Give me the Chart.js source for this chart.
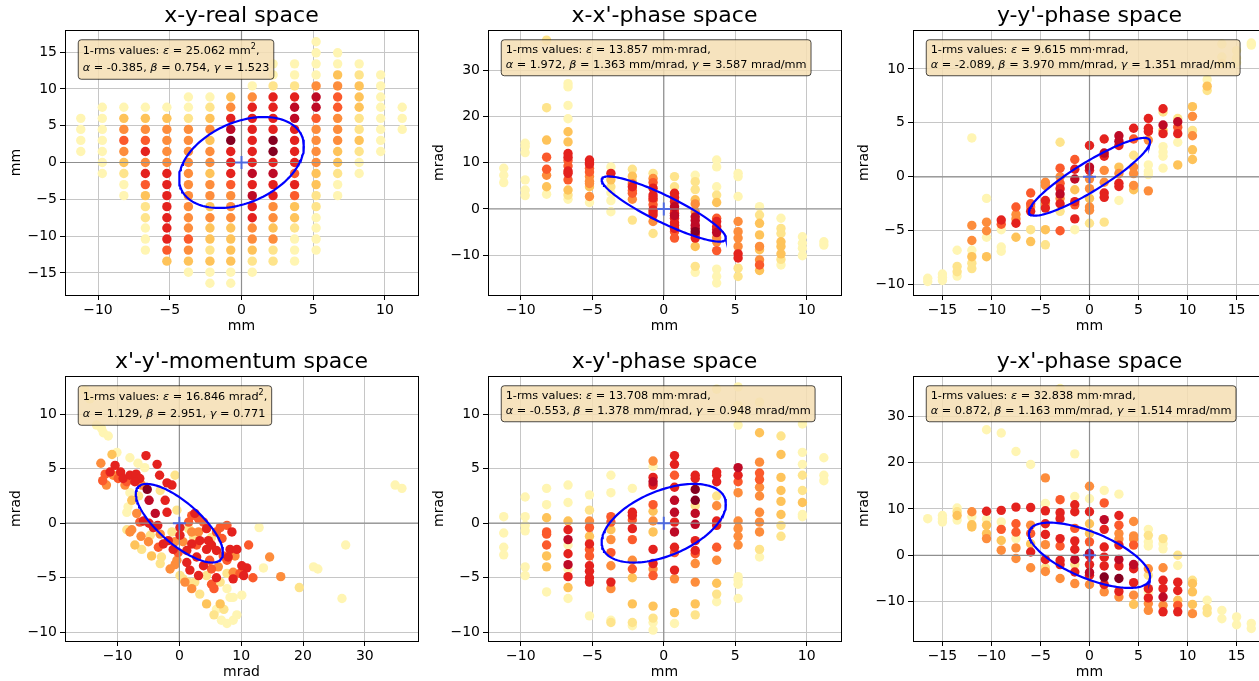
<!DOCTYPE html>
<html>
<head>
<meta charset="utf-8">
<script src="https://cdn.jsdelivr.net/npm/chart.js@4.4.0/dist/chart.umd.min.js"></script>
<style>
  html, body { margin: 0; padding: 0; background: #fff; overflow: hidden; width: 1259px; height: 681px; }
  canvas { position: absolute; }
</style>
</head>
<body>
<script>
// colour levels of the beam density (YlOrRd)
const levelColors = ['#fff5b3', '#fee48c', '#fec35a', '#fd8d3c', '#fb5a2c', '#e4221e', '#be0a26', '#850020'];

// twiss values: epsilon, alpha, beta, gamma
const twissXY = [25.062, -0.385, 0.754, 1.523];
const twissXXp = [13.857, 1.972, 1.363, 3.587];
const twissYYp = [9.615, -2.089, 3.970, 1.351];
const twissXpYp = [16.846, 1.129, 2.951, 0.771];
const twissXYp = [13.708, -0.553, 1.378, 0.948];
const twissYXp = [32.838, 0.872, 1.163, 1.514];
const beamCenter = [0, 0];

// points: [horizontal, vertical, density level]
const ptsXY = [
  [-11.2,6.0,1],[-11.2,4.5,1],[-11.2,3.0,1],[-11.2,1.5,1],
  [-9.7,7.5,1],[-9.7,6.0,1],[-9.7,4.5,1],[-9.7,3.0,1],[-9.7,1.5,1],[-9.7,0,1],[-9.7,-1.5,1],
  [-8.2,7.5,1],[-8.2,6.0,3],[-8.2,4.5,4],[-8.2,3.0,5],[-8.2,1.5,4],[-8.2,0,3],[-8.2,-1.5,2],[-8.2,-3.0,1],[-8.2,-4.5,1],
  [-6.7,7.5,1],[-6.7,6.0,3],[-6.7,4.5,4],[-6.7,3.0,5],[-6.7,1.5,6],[-6.7,0,4],[-6.7,-1.5,6],[-6.7,-3.0,5],[-6.7,-4.5,3],[-6.7,-6.0,2],[-6.7,-7.5,2],[-6.7,-8.9,1],[-6.7,-10.4,1],[-6.7,-11.9,1],
  [-5.2,7.5,1],[-5.2,6.0,3],[-5.2,4.5,4],[-5.2,3.0,4],[-5.2,1.5,4],[-5.2,0,4],[-5.2,-1.5,6],[-5.2,-3.0,6],[-5.2,-4.5,6],[-5.2,-6.0,6],[-5.2,-7.5,6],[-5.2,-8.9,6],[-5.2,-10.4,6],[-5.2,-11.9,5],[-5.2,-13.4,3],
  [-3.7,8.9,1],[-3.7,7.5,1],[-3.7,6.0,2],[-3.7,4.5,4],[-3.7,3.0,4],[-3.7,1.5,4],[-3.7,0,4],[-3.7,-1.5,4],[-3.7,-3.0,4],[-3.7,-4.5,4],[-3.7,-6.0,4],[-3.7,-7.5,4],[-3.7,-8.9,4],[-3.7,-10.4,5],[-3.7,-11.9,4],[-3.7,-13.4,3],[-3.7,-14.9,1],
  [-2.2,8.9,1],[-2.2,7.5,2],[-2.2,6.0,3],[-2.2,4.5,4],[-2.2,3.0,3],[-2.2,1.5,4],[-2.2,0,4],[-2.2,-1.5,3],[-2.2,-3.0,4],[-2.2,-4.5,4],[-2.2,-6.0,3],[-2.2,-7.5,4],[-2.2,-8.9,3],[-2.2,-10.4,3],[-2.2,-11.9,2],[-2.2,-13.4,3],[-2.2,-14.9,1],[-2.2,-16.4,1],
  [-0.75,8.9,3],[-0.75,7.5,4],[-0.75,6.0,6],[-0.75,4.5,7],[-0.75,3.0,8],[-0.75,1.5,6],[-0.75,0,6],[-0.75,-1.5,6],[-0.75,-3.0,5],[-0.75,-4.5,4],[-0.75,-6.0,4],[-0.75,-7.5,4],[-0.75,-8.9,3],[-0.75,-10.4,3],[-0.75,-11.9,3],[-0.75,-13.4,3],[-0.75,-14.9,1],[-0.75,-16.4,1],
  [0.75,10.4,1],[0.75,8.9,4],[0.75,7.5,6],[0.75,6.0,6],[0.75,4.5,6],[0.75,3.0,6],[0.75,1.5,6],[0.75,0,6],[0.75,-1.5,7],[0.75,-3.0,6],[0.75,-4.5,7],[0.75,-6.0,6],[0.75,-7.5,6],[0.75,-8.9,4],[0.75,-10.4,4],[0.75,-11.9,3],[0.75,-13.4,2],[0.75,-14.9,1],
  [2.2,13.4,1],[2.2,11.9,1],[2.2,10.4,2],[2.2,8.9,6],[2.2,7.5,6],[2.2,6.0,6],[2.2,4.5,6],[2.2,3.0,8],[2.2,1.5,8],[2.2,0,6],[2.2,-1.5,7],[2.2,-3.0,6],[2.2,-4.5,6],[2.2,-6.0,4],[2.2,-7.5,4],[2.2,-8.9,3],[2.2,-10.4,4],[2.2,-11.9,2],[2.2,-13.4,2],
  [3.7,13.4,1],[3.7,11.9,1],[3.7,10.4,2],[3.7,8.9,6],[3.7,7.5,7],[3.7,6.0,7],[3.7,4.5,6],[3.7,3.0,6],[3.7,1.5,6],[3.7,0,6],[3.7,-1.5,5],[3.7,-3.0,6],[3.7,-4.5,5],[3.7,-6.0,3],[3.7,-7.5,3],[3.7,-8.9,2],[3.7,-10.4,1],[3.7,-11.9,1],[3.7,-13.4,1],
  [5.2,16.4,1],[5.2,14.9,1],[5.2,13.4,1],[5.2,11.9,1],[5.2,10.4,4],[5.2,8.9,7],[5.2,7.5,7],[5.2,6.0,5],[5.2,4.5,4],[5.2,3.0,4],[5.2,1.5,4],[5.2,0,4],[5.2,-1.5,3],[5.2,-3.0,3],[5.2,-4.5,2],[5.2,-6.0,2],[5.2,-7.5,1],[5.2,-8.9,1],[5.2,-10.4,1],[5.2,-11.9,1],
  [6.7,14.9,1],[6.7,13.4,1],[6.7,11.9,3],[6.7,10.4,4],[6.7,8.9,5],[6.7,7.5,5],[6.7,6.0,4],[6.7,4.5,4],[6.7,3.0,4],[6.7,1.5,3],[6.7,0,3],[6.7,-1.5,2],[6.7,-3.0,1],[6.7,-4.5,1],
  [8.2,13.4,1],[8.2,11.9,2],[8.2,10.4,3],[8.2,8.9,3],[8.2,7.5,3],[8.2,6.0,2],[8.2,4.5,2],[8.2,3.0,3],[8.2,1.5,2],[8.2,0,1],[8.2,-1.5,1],
  [9.7,11.9,1],[9.7,10.4,1],[9.7,8.9,1],[9.7,7.5,1],[9.7,6.0,1],[9.7,4.5,1],[9.7,3.0,1],[9.7,1.5,1],
  [11.2,7.5,1],[11.2,6.0,1],[11.2,4.5,1]
];

const ptsXXp = [
  [-11.2,8.8,1],[-11.2,7.3,1],[-11.2,5.7,1],
  [-9.7,14.2,1],[-9.7,13.5,1],[-9.7,12.2,1],[-9.7,6.3,1],[-9.7,4.1,1],[-9.7,2.9,1],
  [-8.2,36.5,2],[-8.2,21.9,2],[-8.2,14.9,3],[-8.2,11.2,5],[-8.2,8.6,5],[-8.2,7.3,4],[-8.2,4.8,3],[-8.2,3.2,1],
  [-6.7,27.1,1],[-6.7,26.4,1],[-6.7,22.4,1],[-6.7,19.5,1],[-6.7,16.7,3],[-6.7,14.5,3],[-6.7,12.0,6],[-6.7,11.2,6],[-6.7,10.5,5],[-6.7,9.3,5],[-6.7,8.2,6],[-6.7,7.7,6],[-6.7,6.3,5],[-6.7,4.1,3],[-6.7,3.0,2],[-6.7,2.1,1],
  [-5.2,10.6,6],[-5.2,10.0,6],[-5.2,9.7,6],[-5.2,8.8,5],[-5.2,8.0,5],[-5.2,7.0,4],[-5.2,6.0,4],[-5.2,5.5,4],[-5.2,4.8,3],[-5.2,2.7,4],[-5.2,1.4,1],
  [-3.7,9.1,1],[-3.7,7.7,6],[-3.7,6.3,3],[-3.7,4.8,2],[-3.7,3.5,1],[-3.7,1.8,1],[-3.7,-0.6,1],
  [-2.2,8.6,2],[-2.2,7.1,3],[-2.2,5.9,3],[-2.2,5.4,5],[-2.2,4.8,6],[-2.2,4.0,5],[-2.2,3.4,5],[-2.2,2.1,4],[-2.2,-2.4,2],
  [-0.75,7.7,2],[-0.75,6.6,4],[-0.75,5.7,5],[-0.75,4.5,6],[-0.75,3.0,6],[-0.75,2.4,6],[-0.75,1.9,5],[-0.75,0.9,5],[-0.75,-0.2,6],[-0.75,-0.7,5],[-0.75,-1.3,6],[-0.75,-2.7,4],[-0.75,-5.3,2],
  [0.75,7.0,2],[0.75,4.8,2],[0.75,3.4,6],[0.75,2.5,6],[0.75,1.6,6],[0.75,0.5,7],[0.75,0.0,6],[0.75,-0.9,6],[0.75,-1.4,7],[0.75,-2.0,6],[0.75,-3.0,6],[0.75,-3.5,6],[0.75,-4.2,6],[0.75,-4.9,5],[0.75,-6.3,5],
  [2.2,7.3,1],[2.2,5.9,2],[2.2,4.2,2],[2.2,2.0,3],[2.2,1.1,4],[2.2,-0.6,4],[2.2,-1.7,7],[2.2,-2.5,7],[2.2,-3.5,7],[2.2,-4.2,7],[2.2,-4.9,8],[2.2,-5.5,6],[2.2,-6.3,6],[2.2,-8.1,3],[2.2,-12.4,2],[2.2,-13.7,1],
  [3.7,10.6,1],[3.7,9.1,1],[3.7,4.8,1],[3.7,3.0,2],[3.7,1.4,3],[3.7,-2.0,5],[3.7,-2.7,6],[3.7,-3.8,6],[3.7,-4.4,6],[3.7,-5.1,7],[3.7,-6.2,4],[3.7,-7.1,4],[3.7,-9.0,5],[3.7,-13.0,1],[3.7,-14.6,1],[3.7,-16.0,1],
  [5.2,7.7,1],[5.2,7.0,1],[5.2,2.7,1],[5.2,-2.7,4],[5.2,-4.9,4],[5.2,-6.3,4],[5.2,-8.1,4],[5.2,-9.7,6],[5.2,-10.6,6],[5.2,-12.8,2],[5.2,-14.6,2],
  [6.7,0.5,1],[6.7,-1.3,2],[6.7,-3.1,3],[6.7,-5.6,3],[6.7,-8.1,4],[6.7,-8.8,3],[6.7,-11.0,4],[6.7,-12.1,5],[6.7,-13.3,3],
  [8.2,-2.0,1],[8.2,-4.2,2],[8.2,-5.3,2],[8.2,-7.1,3],[8.2,-8.1,3],[8.2,-9.7,3],[8.2,-10.9,2],[8.2,-12.1,1],
  [9.7,-6.0,1],[9.7,-7.4,1],[9.7,-8.5,1],[9.7,-10.1,1],
  [11.2,-7.1,1],[11.2,-7.8,1]
];

const ptsYYp = [
  [-16.5,-9.4,1],[-16.5,-9.7,1],
  [-15,-9.0,1],[-15,-9.3,1],[-15,-9.6,1],
  [-13.5,-6.8,1],[-13.5,-8.3,2],[-13.5,-8.8,2],[-13.5,-9.2,1],
  [-12,3.6,1],[-12,-4.5,4],[-12,-5.9,4],[-12,-6.8,1],[-12,-7.4,3],[-12,-8.0,2],[-12,-8.5,2],
  [-10.5,-2.0,1],[-10.5,-4.2,4],[-10.5,-5.0,4],[-10.5,-5.6,1],[-10.5,-7.4,3],
  [-9,-4.0,6],[-9,-4.4,5],[-9,-4.9,1],[-9,-6.5,1],[-9,-6.9,1],
  [-7.5,-2.8,5],[-7.5,-3.5,4],[-7.5,-3.9,4],[-7.5,-4.3,6],[-7.5,-5.6,3],
  [-6,-1.5,5],[-6,-2.5,5],[-6,-2.8,4],[-6,-3.2,6],[-6,-4.9,2],[-6,-6.0,3],
  [-4.5,-0.5,4],[-4.5,-0.8,4],[-4.5,-2.2,6],[-4.5,-2.5,4],[-4.5,-2.9,6],[-4.5,-4.9,3],[-4.5,-6.3,2],
  [-3,3.2,2],[-3,0.8,5],[-3,0,4],[-3,-0.6,5],[-3,-1.1,6],[-3,-1.6,7],[-3,-2.0,4],[-3,-2.5,6],[-3,-3.2,2],[-3,-5.0,5],
  [-1.5,1.6,5],[-1.5,0.7,6],[-1.5,-0.2,7],[-1.5,-1.2,3],[-1.5,-2.3,6],[-1.5,-2.6,5],[-1.5,-3.9,6],[-1.5,-4.9,1],
  [0,2.9,6],[0,0.9,7],[0,0.6,6],[0,-0.2,4],[0,-1.1,4],[0,-2.0,3],[0,-2.8,4],[0,-3.1,4],[0,-4.3,2],
  [1.5,3.5,6],[1.5,2.2,7],[1.5,1.9,6],[1.5,0.6,4],[1.5,-0.5,4],[1.5,-1.5,6],[1.5,-1.9,6],[1.5,-4.2,2],
  [3,3.8,7],[3,3.3,7],[3,2.9,6],[3,0.9,3],[3,0.3,4],[3,-0.6,6],[3,-0.9,6],[3,-2.2,1],
  [4.5,4.5,6],[4.5,3.5,5],[4.5,2.0,2],[4.5,0.9,4],[4.5,0.3,4],[4.5,-0.8,4],[4.5,-1.2,3],
  [6,5.4,6],[6,4.5,6],[6,4.2,6],[6,3.4,4],[6,1.1,1],[6,0.5,1],[6,0.2,1],[6,-1.3,4],
  [7.5,6.3,6],[7.5,6.0,2],[7.5,4.8,7],[7.5,4.3,3],[7.5,4.0,6],[7.5,2.8,1],[7.5,2.3,1],[7.5,1.9,1],[7.5,0.8,1],
  [9,5.4,2],[9,5.1,7],[9,4.6,5],[9,4.0,6],[9,3.2,1],[9,1.1,3],
  [10.5,6.5,3],[10.5,5.6,4],[10.5,4.3,2],[10.5,3.8,4],[10.5,2.5,3],[10.5,1.6,3],
  [12,9.0,1],[12,8.4,3],[12,8.0,2],
  [13.5,12.3,1],[13.5,11.1,1],[13.5,10.5,2],
  [15,11.7,1],[15,11.0,1],[15,10.6,1],
  [16.5,12.4,1],[16.5,12.2,1]
];

const ptsXpYp = [
  [-15.3,12.2,1],[-14.5,11.4,1],[-13.4,9.0,1],[-12.6,8.7,1],[-12.3,8.3,1],[-11.5,8.0,1],[-10.9,6.3,3],[-10.1,6.5,1],[-8.0,6.0,1],
  [-12.7,5.5,4],[-12.0,4.5,5],[-12.4,3.9,5],[-11.8,3.5,4],[-10.7,4.4,4],[-10.4,5.3,6],[-9.5,4.7,6],[-9.1,4.1,6],[-8.5,3.8,5],
  [-8.0,4.4,6],[-7.0,4.5,6],[-6.4,4.1,6],[-5.4,6.2,6],[-5.6,5.1,1],[-5.2,3.1,8],[-4.9,2.1,7],[-3.6,5.4,6],[-3.2,4.4,6],
  [-3.1,3.0,2],[-2.3,2.1,6],[-2.0,1.0,6],[-3.9,0.9,7],[-3.5,-0.2,6],[-2.0,3.7,6],[-1.2,3.5,6],[-0.7,4.4,2],[-0.4,1.2,2],
  [-8.0,2.8,1],[-7.7,2.1,3],[-8.5,1.0,1],[-6.4,0.1,5],[-4.9,0.0,6],[-7.7,-0.6,4],[-8.0,-0.8,4],[-6.2,-1.2,4],[-4.7,-1.1,2],
  [-5.0,-1.7,4],[-3.4,-2.2,5],[-2.9,-3.1,2],[-1.8,-1.6,6],[-1.0,-2.4,6],[-0.2,-2.7,5],[-0.7,-3.8,4],[0.1,-0.4,6],[1.5,0.1,5],
  [2.0,0.7,5],[2.5,0.9,6],[3.1,0.4,5],[3.9,0.1,5],[2.3,-1.3,2],[2.0,-0.8,4],[2.8,-2.0,5],[4.4,-0.5,6],[4.7,-1.6,6],
  [6.0,-0.8,5],[6.6,-0.4,5],[7.7,-0.2,5],[8.5,-0.8,6],[8.2,-2.4,6],[9.3,-2.4,6],[9.0,-3.0,4],[11.2,-2.0,5],[14.6,-3.1,4],
  [12.9,-0.4,1],[10.9,-4.1,6],[10.1,-3.9,6],[11.9,-5.0,5],[9.8,-4.6,5],[8.7,-4.5,4],[6.0,-5.0,6],[5.6,-6.0,5],[6.6,-5.4,2],
  [7.7,-4.6,2],[3.9,-3.9,6],[4.9,-3.4,5],[3.1,-4.8,6],[1.7,-4.3,6],[1.2,-2.5,6],[-0.7,-1.7,4],[0.1,-4.8,2],[0.9,-5.4,4],
  [1.5,-5.4,2],[2.5,-5.4,2],[4.4,-4.8,2],[4.4,-7.4,3],[3.3,-6.5,2],[6.6,-7.4,3],[7.2,-7.9,2],[5.6,-8.4,2],[6.8,-8.9,1],
  [7.7,-9.2,1],[8.7,-8.9,1],[9.3,-8.4,1],[8.2,-6.8,1],[10.1,-6.6,1],[13.6,-4.1,1],[16.4,-4.9,4],[19.4,-5.9,2],[21.7,-4.0,1],
  [22.4,-4.2,1],[26.3,-6.9,1],[26.9,-2.0,1],[34.9,3.5,1],[36.0,3.2,1],[-6.7,5.5,1],[-0.4,-3.4,4],[-1.5,-4.2,4],[-3.1,-3.7,2],
  [1.5,-0.5,2],[3.1,-0.8,4],[5.2,-1.3,2],[6.9,-1.4,5],[-8.5,-0.6,2],[-7.2,-2.0,3],[-6.1,-2.4,2],[-4.5,-3.0,3],[5.2,-4.2,5],
  [7.7,-3.4,5],[4.4,-2.4,6],[2.8,-3.1,6],[1.2,-3.6,6],
  [-11.2,4.7,6],[-9.9,4.1,5],[-8.8,3.5,4],[-7.2,3.8,6],[-6.1,3.5,4],[-6.6,2.5,2],[-8.3,1.5,1],[-6.9,0.9,4],[-5.8,0.2,6],
  [-4.2,-0.4,6],[-3.1,-1.0,4],[-2.6,-1.9,6],[-1.2,-0.8,2],[0.1,-1.1,6],[0.6,-1.7,4],[2.0,-1.9,6],[3.3,-1.6,6],[5.2,-2.0,6],
  [6.0,-2.5,6],[7.1,-3.0,5],[7.9,-3.1,6],[6.3,-4.0,4],[8.7,-5.1,6],[10.4,-4.8,6],[5.2,-5.6,5],[2.0,-6.0,4],[0.6,-5.1,2],
  [7.7,-6.0,1],[8.7,-6.8,1],[6.0,-7.9,1]
];

const ptsXYp = [
  [-11.2,0.6,1],[-11.2,-0.9,1],[-11.2,-2.2,1],[-11.2,-2.9,1],
  [-9.7,2.4,1],[-9.7,0.6,1],[-9.7,-0.2,1],[-9.7,-0.7,1],[-9.7,-4.0,1],[-9.7,-4.8,1],
  [-8.2,3.2,1],[-8.2,1.7,1],[-8.2,0.5,3],[-8.2,-0.8,5],[-8.2,-1.0,5],[-8.2,-2.0,5],[-8.2,-3.0,3],[-8.2,-4.0,3],[-8.2,-6.3,1],
  [-6.7,3.5,1],[-6.7,1.9,1],[-6.7,0.2,3],[-6.7,-0.6,6],[-6.7,-1.5,7],[-6.7,-2.0,1],[-6.7,-2.8,6],[-6.7,-3.8,7],[-6.7,-4.2,1],[-6.7,-4.9,6],[-6.7,-5.9,3],[-6.7,-6.9,1],
  [-5.2,2.6,1],[-5.2,1.2,2],[-5.2,0.2,4],[-5.2,-0.4,5],[-5.2,-1.2,3],[-5.2,-1.9,6],[-5.2,-2.4,5],[-5.2,-3.0,5],[-5.2,-3.9,6],[-5.2,-4.4,6],[-5.2,-5.0,6],[-5.2,-5.4,6],[-5.2,-8.5,1],
  [-3.7,4.4,1],[-3.7,2.8,1],[-3.7,0.6,5],[-3.7,0.1,5],[-3.7,-0.6,3],[-3.7,-1.5,4],[-3.7,-2.7,5],[-3.7,-3.9,4],[-3.7,-5.4,6],[-3.7,-6.0,4],[-3.7,-8.9,1],[-3.7,-9.1,2],
  [-2.2,3.2,1],[-2.2,1.0,6],[-2.2,0.7,6],[-2.2,0.3,5],[-2.2,-0.5,6],[-2.2,-1.5,5],[-2.2,-3.4,4],[-2.2,-4.2,5],[-2.2,-5.0,3],[-2.2,-7.4,3],[-2.2,-9.1,2],[-2.2,-9.4,1],
  [-0.75,5.7,4],[-0.75,5.2,1],[-0.75,4.2,6],[-0.75,3.8,7],[-0.75,3.5,6],[-0.75,1.7,5],[-0.75,1.1,3],[-0.75,0.2,4],[-0.75,-0.8,3],[-0.75,-2.4,6],[-0.75,-3.7,6],[-0.75,-4.2,4],[-0.75,-4.8,5],[-0.75,-7.6,3],[-0.75,-8.7,2],[-0.75,-9.1,1],[-0.75,-9.8,1],
  [0.75,6.2,6],[0.75,5.4,6],[0.75,4.4,5],[0.75,3.3,6],[0.75,2.1,7],[0.75,1.0,7],[0.75,0.1,6],[0.75,-0.8,7],[0.75,-2.2,6],[0.75,-2.7,5],[0.75,-4.3,6],[0.75,-5.1,4],[0.75,-8.2,3],[0.75,-9.2,1],
  [2.2,4.4,6],[2.2,4.1,6],[2.2,3.1,8],[2.2,2.1,8],[2.2,1.6,2],[2.2,0.9,7],[2.2,-0.1,7],[2.2,-1.6,6],[2.2,-2.5,6],[2.2,-2.8,5],[2.2,-3.7,4],[2.2,-5.4,4],[2.2,-7.4,3],[2.2,-8.4,2],
  [3.7,12.3,1],[3.7,4.7,6],[3.7,4.4,6],[3.7,3.8,6],[3.7,2.5,2],[3.7,1.6,4],[3.7,0.2,6],[3.7,-0.2,6],[3.7,-2.2,5],[3.7,-3.4,4],[3.7,-5.5,3],[3.7,-6.5,2],[3.7,-7.2,1],
  [5.2,12.5,1],[5.2,10.8,1],[5.2,9.9,1],[5.2,9.0,1],[5.2,5.1,7],[5.2,4.4,6],[5.2,3.8,5],[5.2,2.8,4],[5.2,0.2,4],[5.2,-0.5,4],[5.2,-1.2,4],[5.2,-2.0,4],[5.2,-4.9,1],[5.2,-5.2,1],[5.2,-5.6,1],[5.2,-6.9,1],
  [6.7,11.1,1],[6.7,8.3,3],[6.7,5.6,4],[6.7,4.6,5],[6.7,4.0,5],[6.7,3.3,4],[6.7,2.5,4],[6.7,1.0,4],[6.7,0.1,4],[6.7,-0.8,4],[6.7,-2.4,2],[6.7,-3.1,1],
  [8.2,8.0,2],[8.2,6.3,3],[8.2,4.2,3],[8.2,3.0,3],[8.2,2.0,3],[8.2,0.8,3],[8.2,-0.2,2],[8.2,-1.2,2],
  [9.7,9.1,1],[9.7,6.5,1],[9.7,5.4,1],[9.7,4.4,2],[9.7,3.0,2],[9.7,1.9,3],[9.7,0.8,1],[9.7,0.6,1],
  [11.2,6.0,1],[11.2,4.4,1],[11.2,3.9,1]
];

const ptsYXp = [
  [-16.5,7.9,1],
  [-15,8.6,1],[-15,7.9,1],[-15,7.2,1],
  [-13.5,10.2,1],[-13.5,9.4,2],[-13.5,8.6,3],[-13.5,7.6,1],
  [-12,9.4,4],[-12,8.3,1],[-12,6.6,3],[-12,6.1,3],
  [-10.5,27.1,1],[-10.5,9.5,6],[-10.5,7.8,1],[-10.5,6.5,3],[-10.5,4.7,3],[-10.5,3.6,4],
  [-9,26.4,1],[-9,9.7,6],[-9,7.2,1],[-9,5.6,5],[-9,3.2,3],[-9,1.1,4],
  [-7.5,22.4,1],[-7.5,10.4,6],[-7.5,6.8,5],[-7.5,5.0,5],[-7.5,3.6,1],[-7.5,1.6,4],[-7.5,-0.7,4],
  [-6,19.6,1],[-6,10.3,6],[-6,6.5,4],[-6,4.7,5],[-6,2.5,3],[-6,0.7,6],[-6,-2.7,4],
  [-4.5,16.7,4],[-4.5,11.2,1],[-4.5,9.6,6],[-4.5,6.8,6],[-4.5,4.5,6],[-4.5,2.3,4],[-4.5,-0.9,6],[-4.5,-2.7,2],[-4.5,-3.5,4],
  [-3,36.0,1],[-3,12.0,5],[-3,9.2,6],[-3,7.9,6],[-3,3.6,6],[-3,2.0,5],[-3,-1.1,6],[-3,-2.0,6],[-3,-5.0,4],
  [-1.5,21.9,1],[-1.5,12.7,1],[-1.5,10.9,6],[-1.5,9.4,6],[-1.5,5.8,5],[-1.5,3.1,6],[-1.5,1.3,6],[-1.5,-0.9,7],[-1.5,-2.0,2],[-1.5,-3.6,6],[-1.5,-6.1,4],
  [0,14.9,4],[0,12.2,1],[0,9.4,6],[0,6.8,3],[0,4.7,3],[0,2.9,5],[0,0.4,7],[0,-0.1,6],[0,-2.0,6],[0,-3.7,7],[0,-4.3,6],[0,-6.3,4],
  [1.5,14.0,1],[1.5,11.3,5],[1.5,7.7,7],[1.5,5.6,6],[1.5,1.8,6],[1.5,-0.4,6],[1.5,-2.3,6],[1.5,-4.7,8],[1.5,-6.3,6],[1.5,-7.9,4],
  [3,13.2,1],[3,8.6,6],[3,6.5,5],[3,4.7,4],[3,3.5,4],[3,2.2,6],[3,-0.9,7],[3,-2.3,6],[3,-5.0,8],[3,-7.8,6],[3,-9.0,4],
  [4.5,7.3,4],[4.5,4.2,4],[4.5,3.5,4],[4.5,2.2,5],[4.5,-2.0,7],[4.5,-2.9,6],[4.5,-5.9,6],[4.5,-8.6,4],[4.5,-10.6,3],
  [6,5.6,1],[6,4.3,2],[6,2.9,1],[6,2.0,1],[6,-2.9,4],[6,-4.3,2],[6,-7.2,6],[6,-7.9,1],[6,-9.2,6],[6,-10.4,4],[6,-11.9,4],
  [7.5,3.6,2],[7.5,2.5,1],[7.5,1.4,1],[7.5,-2.7,4],[7.5,-5.4,6],[7.5,-7.2,6],[7.5,-9.0,7],[7.5,-10.8,4],[7.5,-12.2,6],
  [9,0.0,2],[9,-2.2,1],[9,-5.8,6],[9,-7.6,6],[9,-9.7,3],[9,-10.8,5],[9,-12.2,6],
  [10.5,-5.4,2],[10.5,-6.1,3],[10.5,-7.9,3],[10.5,-10.6,3],[10.5,-12.6,4],
  [12,-9.7,1],[12,-11.5,2],[12,-12.4,2],
  [13.5,-11.9,1],[13.5,-13.7,1],
  [15,-13.3,1],[15,-15.0,1],
  [16.5,-14.7,1],[16.5,-15.8,1]
];

// tick values
const ticksMm10 = [-10, -5, 0, 5, 10];
const ticksMm15 = [-15, -10, -5, 0, 5, 10, 15];
const ticksWide = [-10, 0, 10, 20, 30];
const ticksSmall = [-10, -5, 0, 5, 10];

const AX_W = 353, AX_H = 265, Y_AXIS = 65, X_AXIS = 40, TITLE_H = 30, PAD_R = 12;
const BOX_FONT = 11.3;

const unitsMm2 = {eps: 'mm', sup: true, beta: '', gamma: ''};
const unitsMrad2 = {eps: 'mrad', sup: true, beta: '', gamma: ''};
const unitsPhase = {eps: 'mm\u00b7mrad', sup: false, beta: ' mm/mrad', gamma: ' mrad/mm'};

const panels = [
  {title: 'x-y-real space', pts: ptsXY, tw: twissXY, u: unitsMm2, xl: 'mm', yl: 'mm',
   x: [-12.3, 12.3], y: [-18.0, 18.0], xt: ticksMm10, yt: ticksMm15, left: 65, top: 30},
  {title: "x-x'-phase space", pts: ptsXXp, tw: twissXXp, u: unitsPhase, xl: 'mm', yl: 'mrad',
   x: [-12.3, 12.4], y: [-18.6, 38.7], xt: ticksMm10, yt: ticksWide, left: 488, top: 30},
  {title: "y-y'-phase space", pts: ptsYYp, tw: twissYYp, u: unitsPhase, xl: 'mm', yl: 'mrad',
   x: [-18.0, 18.0], y: [-10.95, 13.6], xt: ticksMm15, yt: ticksSmall, left: 913, top: 30},
  {title: "x'-y'-momentum space", pts: ptsXpYp, tw: twissXpYp, u: unitsMrad2, xl: 'mrad', yl: 'mrad',
   x: [-18.5, 38.6], y: [-10.8, 13.5], xt: ticksWide, yt: ticksSmall, left: 65, top: 376},
  {title: "x-y'-phase space", pts: ptsXYp, tw: twissXYp, u: unitsPhase, xl: 'mm', yl: 'mrad',
   x: [-12.3, 12.4], y: [-10.8, 13.5], xt: ticksMm10, yt: ticksSmall, left: 488, top: 376},
  {title: "y-x'-phase space", pts: ptsYXp, tw: twissYXp, u: unitsPhase, xl: 'mm', yl: 'mrad',
   x: [-18.0, 18.0], y: [-18.5, 38.7], xt: ticksMm15, yt: ticksWide, left: 913, top: 376}
];

Chart.defaults.font.family = 'DejaVu Sans';
Chart.defaults.color = '#000';

function minusFmt(v) { return v < 0 ? '\u2212' + Math.abs(v) : String(v); }

// ellipse from the twiss values
function ellipse(tw) {
  const [eps, al, be] = tw, out = [];
  for (let i = 0; i <= 160; i++) {
    const t = 2 * Math.PI * i / 160;
    out.push({x: beamCenter[0] + Math.sqrt(eps * be) * Math.cos(t),
              y: beamCenter[1] - Math.sqrt(eps / be) * (al * Math.cos(t) + Math.sin(t))});
  }
  return out;
}

function boxSegments(tw, u) {
  const l1 = [{t: '1-rms values: '}, {t: '\u03b5', it: 1}, {t: ' = ' + tw[0].toFixed(3) + ' ' + u.eps}];
  if (u.sup) l1.push({t: '2', sup: 1});
  l1.push({t: ','});
  const l2 = [{t: '\u03b1', it: 1}, {t: ' = ' + tw[1].toFixed(3) + ', '},
              {t: '\u03b2', it: 1}, {t: ' = ' + tw[2].toFixed(3) + u.beta + ', '},
              {t: '\u03b3', it: 1}, {t: ' = ' + tw[3].toFixed(3) + u.gamma}];
  return [l1, l2];
}

function segFont(s) {
  if (s.sup) return '8px "DejaVu Sans"';
  return (s.it ? 'italic ' : '') + BOX_FONT + 'px "DejaVu Sans"';
}

function richWidth(ctx, segs) {
  let w = 0;
  segs.forEach(s => { ctx.font = segFont(s); w += ctx.measureText(s.t).width; });
  return w;
}

const frameAndBox = {
  id: 'frameAndBox',
  afterDatasetDraw(chart, args) {
    if (args.index !== 0) return;
    // zero lines above the scatter
    const ctx = chart.ctx, a = chart.chartArea;
    const x0 = chart.scales.x.getPixelForValue(0), y0 = chart.scales.y.getPixelForValue(0);
    ctx.save();
    ctx.strokeStyle = '#8f8f8f';
    ctx.lineWidth = 1.2;
    ctx.beginPath();
    ctx.moveTo(a.left, y0); ctx.lineTo(a.right, y0);
    ctx.moveTo(x0, a.top); ctx.lineTo(x0, a.bottom);
    ctx.stroke();
    ctx.restore();
  },
  afterDraw(chart) {
    const ctx = chart.ctx, a = chart.chartArea, p = chart.options.plugins.frameAndBox;
    ctx.save();
    ctx.strokeStyle = '#000';
    ctx.lineWidth = 1;
    ctx.strokeRect(Math.round(a.left) + 0.5, Math.round(a.top) + 0.5,
                   Math.round(a.right - a.left), Math.round(a.bottom - a.top));
    // text box
    const lines = boxSegments(p.tw, p.u);
    const tx = a.left + 0.05 * (a.right - a.left);
    const ty = a.top + 0.05 * (a.bottom - a.top);
    const w = Math.max(richWidth(ctx, lines[0]), richWidth(ctx, lines[1]));
    const centers = p.u.sup ? [7.5, 25] : [6.75, 21.75];
    const bx = tx - 4.4, by = ty - 3.5, bw = w + 8.8, bh = (p.u.sup ? 39.5 : 36);
    ctx.beginPath();
    ctx.roundRect(bx, by, bw, bh, 3);
    ctx.fillStyle = 'rgba(245,222,179,0.85)';
    ctx.fill();
    ctx.strokeStyle = 'rgba(0,0,0,0.7)';
    ctx.stroke();
    ctx.fillStyle = '#000';
    ctx.textBaseline = 'middle';
    ctx.textAlign = 'left';
    lines.forEach((segs, i) => {
      let x = tx;
      segs.forEach(s => {
        ctx.font = segFont(s);
        ctx.fillText(s.t, x, ty + centers[i] - (s.sup ? 4 : 0));
        x += ctx.measureText(s.t).width;
      });
    });
    ctx.restore();
  }
};

panels.forEach((p, i) => {
  const cv = document.createElement('canvas');
  cv.width = Y_AXIS + AX_W + PAD_R;
  cv.height = TITLE_H + AX_H + X_AXIS;
  cv.style.left = (p.left - Y_AXIS) + 'px';
  cv.style.top = (p.top - TITLE_H) + 'px';
  document.body.appendChild(cv);

  const sorted = p.pts.slice().sort((a, b) => a[2] - b[2]);
  const tickFont = {family: 'DejaVu Sans', size: 14};
  const gridCfg = {color: '#c6c6c6', lineWidth: 1, drawTicks: true, tickLength: 5, tickColor: '#000', tickWidth: 1};

  new Chart(cv, {
    type: 'scatter',
    data: {
      datasets: [
        {data: sorted.map(q => ({x: q[0], y: q[1]})),
         backgroundColor: sorted.map(q => levelColors[q[2] - 1]),
         borderWidth: 0, pointRadius: 4.7, order: 3, clip: 0},
        {data: ellipse(p.tw), showLine: true, pointRadius: 0, borderColor: '#0000ff',
         borderWidth: 2.2, fill: false, order: 2, clip: 0},
        {data: [{x: beamCenter[0], y: beamCenter[1]}], pointStyle: 'cross', pointRadius: 6.5,
         borderColor: 'rgba(70,100,230,0.9)', backgroundColor: 'rgba(70,100,230,0.9)', borderWidth: 2, order: 1}
      ]
    },
    options: {
      responsive: false,
      animation: false,
      events: [],
      layout: {padding: {left: 0, right: PAD_R, top: 0, bottom: 0}},
      plugins: {
        legend: {display: false},
        tooltip: {enabled: false},
        title: {display: true, text: p.title, fullSize: false, color: '#000',
                font: {family: 'DejaVu Sans', size: 22, weight: 'normal'},
                padding: {top: 3.2, bottom: 0.4}},
        frameAndBox: {tw: p.tw, u: p.u}
      },
      scales: {
        x: {type: 'linear', min: p.x[0], max: p.x[1],
            afterBuildTicks: s => { s.ticks = p.xt.map(v => ({value: v})); },
            afterFit: s => { s.height = X_AXIS; },
            ticks: {font: tickFont, color: '#000', autoSkip: false, maxRotation: 0, padding: 2, callback: minusFmt},
            grid: gridCfg, border: {display: false},
            title: {display: true, text: p.xl, font: {family: 'DejaVu Sans', size: 14}, color: '#000', padding: {top: 0, bottom: 0}}},
        y: {type: 'linear', min: p.y[0], max: p.y[1],
            afterBuildTicks: s => { s.ticks = p.yt.map(v => ({value: v})); },
            afterFit: s => { s.width = Y_AXIS; },
            ticks: {font: tickFont, color: '#000', autoSkip: false, padding: 3, callback: minusFmt},
            grid: gridCfg, border: {display: false},
            title: {display: true, text: p.yl, font: {family: 'DejaVu Sans', size: 14}, color: '#000', padding: {top: 8, bottom: 0}}}
      }
    },
    plugins: [frameAndBox]
  });
});
</script>
</body>
</html>
